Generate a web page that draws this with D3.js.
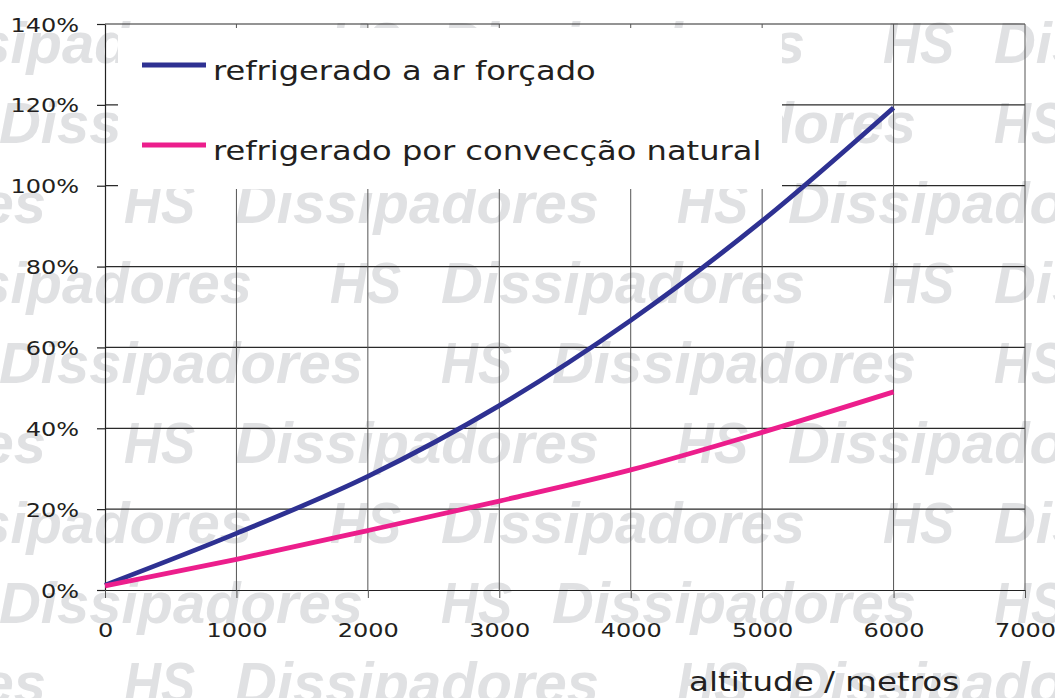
<!DOCTYPE html>
<html>
<head>
<meta charset="utf-8">
<script src="https://cdn.jsdelivr.net/npm/d3@7"></script>
<style>
  html, body { margin: 0; padding: 0; background: #fff; }
  svg { display: block; }
  text { font-family: "DejaVu Sans", Verdana, sans-serif; fill: #231f20; }
</style>
</head>
<body>
<svg id="chart" width="1055" height="698"></svg>
<script>
// ---- data ----
const altitudes = [0, 1000, 2000, 3000, 4000, 5000, 6000];
const forcedAir = [1.2, 14.0, 28.1, 45.6, 66.7, 91.3, 119.3];
const naturalConvection = [1.0, 7.6, 14.7, 22.0, 29.7, 39.0, 49.0];
const seriesNames = ["refrigerado a ar forçado", "refrigerado por convecção natural"];
const xTicks = [0, 1000, 2000, 3000, 4000, 5000, 6000, 7000];
const yTicks = [0, 20, 40, 60, 80, 100, 120, 140];
const xTitle = "altitude / metros";
const watermarkWords = ["HS", "Dissipadores"];

// ---- layout ----
const W = 1055, H = 698;
const mLeft = 105, mRight = 1025, mTop = 24, mBottom = 590;
const stretch = 1.2;
const blue = "#2e3192", pink = "#ec1e8c";

const svg = d3.select("#chart");
svg.append("rect").attr("width", W).attr("height", H).attr("fill", "#fff");

const x = d3.scaleLinear().domain([0, 7000]).range([mLeft, mRight]);
const y = d3.scaleLinear().domain([0, 140]).range([mBottom, mTop]);

// ---- watermark ----
const wm = svg.append("g").attr("class", "watermark");
const rows = [
  {y: 63, x0: 330}, {y: 143, x0: 441}, {y: 223, x0: 124}, {y: 303, x0: 330},
  {y: 383, x0: 441}, {y: 463, x0: 124}, {y: 543, x0: 330}, {y: 623, x0: 441},
  {y: 703, x0: 124}
];
const period = 553;
rows.forEach(r => {
  for (let k = -2; k <= 2; k++) {
    const bx = r.x0 + k * period;
    [[watermarkWords[0], 0, 71], [watermarkWords[1], 111, 364]].forEach(([w, dx, len]) => {
      wm.append("text")
        .attr("x", bx + dx).attr("y", r.y)
        .attr("textLength", len)
        .attr("lengthAdjust", "spacingAndGlyphs")
        .style("font-family", "'Liberation Sans Narrow', 'Liberation Sans', Arial, sans-serif")
        .style("font-weight", "bold")
        .style("font-style", "italic")
        .style("font-size", "57px")
        .style("fill", "#e0e1e3")
        .text(w);
    });
  }
});

// ---- grid ----
const grid = svg.append("g");
grid.selectAll("line.h").data(yTicks.filter(d => d > 0)).enter().append("line")
  .attr("x1", mLeft).attr("x2", mRight)
  .attr("y1", d => y(d)).attr("y2", d => y(d))
  .attr("stroke", "#2a2a2a").attr("stroke-width", 1.2);
grid.selectAll("line.v").data(xTicks.filter(d => d > 0)).enter().append("line")
  .attr("x1", d => x(d)).attr("x2", d => x(d))
  .attr("y1", mTop).attr("y2", mBottom)
  .attr("stroke", "#555").attr("stroke-width", 1);

// ---- legend box (covers grid) ----
svg.append("rect").attr("x", 118).attr("y", 28).attr("width", 664).attr("height", 161).attr("fill", "#fff");

// ---- axes ----
const yAxis = svg.append("g").attr("transform", `translate(${mLeft},0)`)
  .call(d3.axisLeft(y).tickValues(yTicks).tickFormat(d => d + "%").tickSize(8).tickSizeOuter(0));
yAxis.select(".domain").attr("stroke", "#222").attr("stroke-width", 1.2);
yAxis.selectAll(".tick line").attr("stroke", "#222").attr("stroke-width", 1.2);
yAxis.selectAll(".tick text")
  .attr("x", null).attr("dy", null)
  .attr("transform", `translate(-26,7) scale(${stretch},1)`)
  .style("font-size", "20px").style("fill", "#231f20");

const xAxis = svg.append("g").attr("transform", `translate(0,${mBottom})`)
  .call(d3.axisBottom(x).tickValues(xTicks).tickFormat(d3.format("d")).tickSize(8).tickSizeOuter(0));
xAxis.select(".domain").attr("stroke", "#222").attr("stroke-width", 1.2);
xAxis.selectAll(".tick line").attr("stroke", "#555").attr("stroke-width", 1);
xAxis.selectAll(".tick text")
  .attr("y", null).attr("dy", null)
  .attr("transform", `translate(0,47) scale(${stretch},1)`)
  .style("font-size", "20px").style("fill", "#231f20");

svg.append("text")
  .attr("transform", `translate(689,691) scale(1.25,1)`)
  .style("font-size", "26px")
  .text(xTitle);

// ---- lines ----
const line = d3.line().x(d => x(d[0])).y(d => y(d[1])).curve(d3.curveMonotoneX);
const series = [
  {name: seriesNames[0], values: forcedAir, color: blue},
  {name: seriesNames[1], values: naturalConvection, color: pink}
];
series.forEach(s => {
  svg.append("path")
    .datum(altitudes.map((a, i) => [a, s.values[i]]))
    .attr("d", line)
    .attr("fill", "none")
    .attr("stroke", s.color)
    .attr("stroke-width", 4.8)
    .attr("stroke-linejoin", "round");
});

// ---- legend ----
series.forEach((s, i) => {
  const ly = 65 + i * 80;
  svg.append("line").attr("x1", 142).attr("x2", 206).attr("y1", ly).attr("y2", ly)
    .attr("stroke", s.color).attr("stroke-width", 5);
  svg.append("text")
    .attr("transform", `translate(213,${ly + 15}) scale(1.19,1)`)
    .style("font-size", "27px")
    .text(s.name);
});
</script>
</body>
</html>
